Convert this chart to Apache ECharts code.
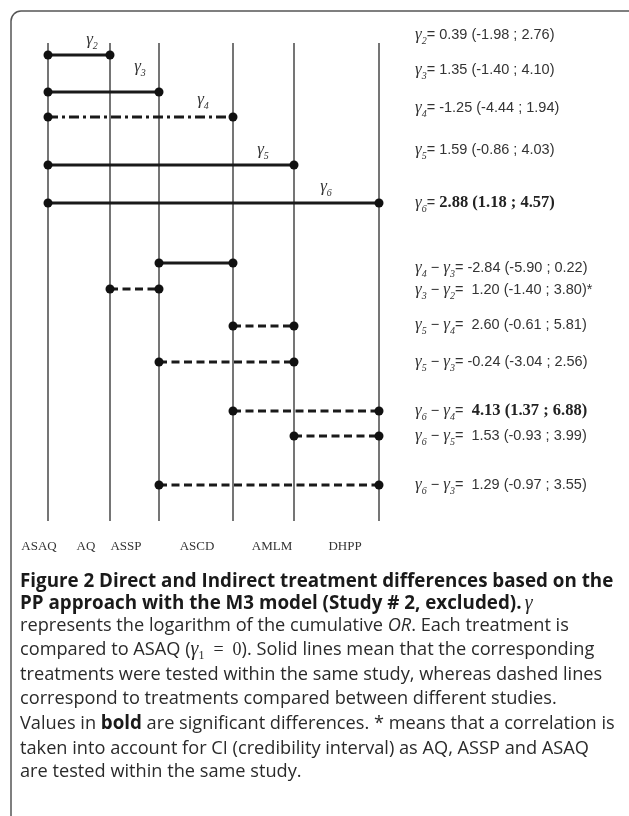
<!DOCTYPE html>
<html><head><meta charset="utf-8">
<script src="https://cdn.jsdelivr.net/npm/echarts@6/dist/echarts.min.js"></script>
<style>html,body{margin:0;padding:0;background:#fff}#c{width:629px;height:816px}</style>
</head><body><div id="c"></div>
<script>
// ---------- data ----------
const treatments = ['ASAQ', 'AQ', 'ASSP', 'ASCD', 'AMLM', 'DHPP'];
const fromTreat = ['ASAQ','ASAQ','ASAQ','ASAQ','ASAQ','ASSP','AQ','ASCD','ASSP','ASCD','AMLM','ASSP'];
const toTreat   = ['AQ','ASSP','ASCD','AMLM','DHPP','ASCD','ASSP','AMLM','AMLM','DHPP','DHPP','DHPP'];
const gammaA    = [2, 3, 4, 5, 6, 4, 3, 5, 5, 6, 6, 6];
const gammaB    = [null, null, null, null, null, 3, 2, 4, 3, 4, 5, 3];
const estimate  = [0.39, 1.35, -1.25, 1.59, 2.88, -2.84, 1.20, 2.60, -0.24, 4.13, 1.53, 1.29];
const lowerCI   = [-1.98, -1.40, -4.44, -0.86, 1.18, -5.90, -1.40, -0.61, -3.04, 1.37, -0.93, -0.97];
const upperCI   = [2.76, 4.10, 1.94, 4.03, 4.57, 0.22, 3.80, 5.81, 2.56, 6.88, 3.99, 3.55];
const significant = [0, 0, 0, 0, 1, 0, 0, 0, 0, 1, 0, 0];
const correlated  = [0, 0, 0, 0, 0, 0, 1, 0, 0, 0, 0, 0];
const design = ['solid','solid','dashdot','solid','solid','solid','dashed','dashed','dashed','dashed','dashed','dashed'];

// ---------- layout (schematic positions, not data) ----------
const treatPos = [0, 62, 111, 185, 246, 331];
const rowPos   = [12, 49, 74, 122, 160, 220, 246, 283, 319, 368, 393, 442];
const textY    = [35, 70, 108, 150, 203, 268, 290, 325, 362, 411, 436, 485];
const gLabelOff = [[-18,-15],[-19,-25],[-30,-17],[-31,-15],[-53,-16]];
const bottomLabelX = [39, 86, 126, 197, 272, 345];

const chart = echarts.init(document.getElementById('c'), null, {renderer:'canvas'});
const ix = t => treatments.indexOf(t);
const segData = fromTreat.map((f,i)=>[treatPos[ix(f)], treatPos[ix(toTreat[i])], rowPos[i], i]);
const dashes = {solid:null, dashed:[8,4.5], dashdot:[10,4,3,4]};

const GF = 'Liberation Serif';
const LH = 22;
const rich = {
  g:{fontFamily:GF, fontStyle:'italic', fontSize:17, fill:'#333', color:'#333', lineHeight:LH},
  s:{fontFamily:GF, fontStyle:'italic', fontSize:10, fill:'#333', color:'#333', lineHeight:9, verticalAlign:'bottom'},
  t:{fontFamily:'Liberation Sans', fontSize:14.5, fill:'#333', color:'#333', lineHeight:LH},
  b:{fontFamily:GF, fontWeight:'bold', fontSize:16.5, fill:'#222', color:'#222', lineHeight:LH}
};
const f2 = v => v.toFixed(2);
const graphics = [];
// border
graphics.push({type:'rect', shape:{x:11,y:11,width:660,height:860,r:10}, style:{fill:'none', stroke:'#555', lineWidth:1.5}, z:0});
// right-hand labels
estimate.forEach((e,i)=>{
  let lhs = '{g|γ}{s|'+gammaA[i]+'}';
  if (gammaB[i] !== null) lhs += '{t| − }{g|γ}{s|'+gammaB[i]+'}';
  lhs += '{t|=}';
  const sp = (gammaB[i] !== null && e >= 0) ? '  ' : ' ';
  const body = f2(e) + ' (' + f2(lowerCI[i]) + ' ; ' + f2(upperCI[i]) + ')' + (correlated[i] ? '*' : '');
  const txt = lhs + (significant[i] ? '{b|'+sp+body+'}' : '{t|'+sp+body+'}');
  graphics.push({type:'text', x:415, y:textY[i], style:{text:txt, rich:rich, verticalAlign:'middle', fill:'#333'}});
});
// treatment names
treatments.forEach((t,i)=>{
  graphics.push({type:'text', x:bottomLabelX[i], y:547, style:{text:t, font:'13px "Liberation Serif"', fill:'#333', align:'center', verticalAlign:'middle'}});
});
// caption
const CF = 'Open Sans';
const cap = {
  b:{fontFamily:CF, fontWeight:'bold', fontSize:18.8, fill:'#1a1a1a', color:'#1a1a1a', lineHeight:24},
  r:{fontFamily:CF, fontSize:18.2, fill:'#2a2a2a', color:'#2a2a2a', lineHeight:24},
  i:{fontFamily:CF, fontStyle:'italic', fontSize:18.2, fill:'#2a2a2a', color:'#2a2a2a', lineHeight:24},
  m:{fontFamily:GF, fontStyle:'italic', fontSize:20, fill:'#2a2a2a', color:'#2a2a2a', lineHeight:24},
  ms:{fontFamily:GF, fontSize:12, fill:'#2a2a2a', color:'#2a2a2a', verticalAlign:'bottom', lineHeight:10},
  mr:{fontFamily:GF, fontSize:18, fill:'#2a2a2a', color:'#2a2a2a', lineHeight:24}
};
const captionLines = [
  ['{b|Figure 2 Direct and Indirect treatment differences based on the}', 582],
  ['{b|PP approach with the M3 model (Study # 2, excluded).} {m|γ}', 604],
  ['{r|represents the logarithm of the cumulative }{i|OR}{r|. Each treatment is}', 626],
  ['{r|compared to ASAQ (}{m|γ}{ms|1}{mr|  =  0}{r|). Solid lines mean that the corresponding}', 650],
  ['{r|treatments were tested within the same study, whereas dashed lines}', 675],
  ['{r|correspond to treatments compared between different studies.}', 699],
  ['{r|Values in }{b|bold}{r| are significant differences. * means that a correlation is}', 724],
  ['{r|taken into account for CI (credibility interval) as AQ, ASSP and ASAQ}', 749],
  ['{r|are tested within the same study.}', 772]
];
captionLines.forEach(([t,y])=>{
  graphics.push({type:'text', x:20, y:y, style:{text:t, rich:cap, verticalAlign:'middle'}});
});

chart.setOption({
  animation:false,
  grid:{left:48, top:43, width:331, height:478},
  xAxis:{type:'value', min:0, max:331, show:false},
  yAxis:{type:'value', min:0, max:478, inverse:true, show:false},
  graphic:graphics,
  series:[
    {type:'custom', data:treatPos.map(p=>[p]), z:1,
     renderItem:(params, api)=>{
       const a = api.coord([api.value(0), 0]), b = api.coord([api.value(0), 478]);
       return {type:'line', shape:{x1:a[0],y1:a[1],x2:b[0],y2:b[1]}, style:{stroke:'#666', lineWidth:1.8}};
     }},
    {type:'custom', data:segData, z:2,
     renderItem:(params, api)=>{
       const i = api.value(3);
       const a = api.coord([api.value(0), api.value(2)]), b = api.coord([api.value(1), api.value(2)]);
       const ch = [
         {type:'line', shape:{x1:a[0],y1:a[1],x2:b[0],y2:b[1]}, style:{stroke:'#1a1a1a', lineWidth:3, lineDash:dashes[design[i]]}},
         {type:'circle', shape:{cx:a[0],cy:a[1],r:4.5}, style:{fill:'#111'}},
         {type:'circle', shape:{cx:b[0],cy:b[1],r:4.5}, style:{fill:'#111'}}
       ];
       if (gammaB[i] === null) {
         const o = gLabelOff[i];
         ch.push({type:'text', x:b[0]+o[0], y:b[1]+o[1], style:{text:'{g|γ}{s|'+gammaA[i]+'}', rich:rich, align:'center', verticalAlign:'middle'}});
       }
       return {type:'group', children:ch};
     }}
  ]
});
</script></body></html>
